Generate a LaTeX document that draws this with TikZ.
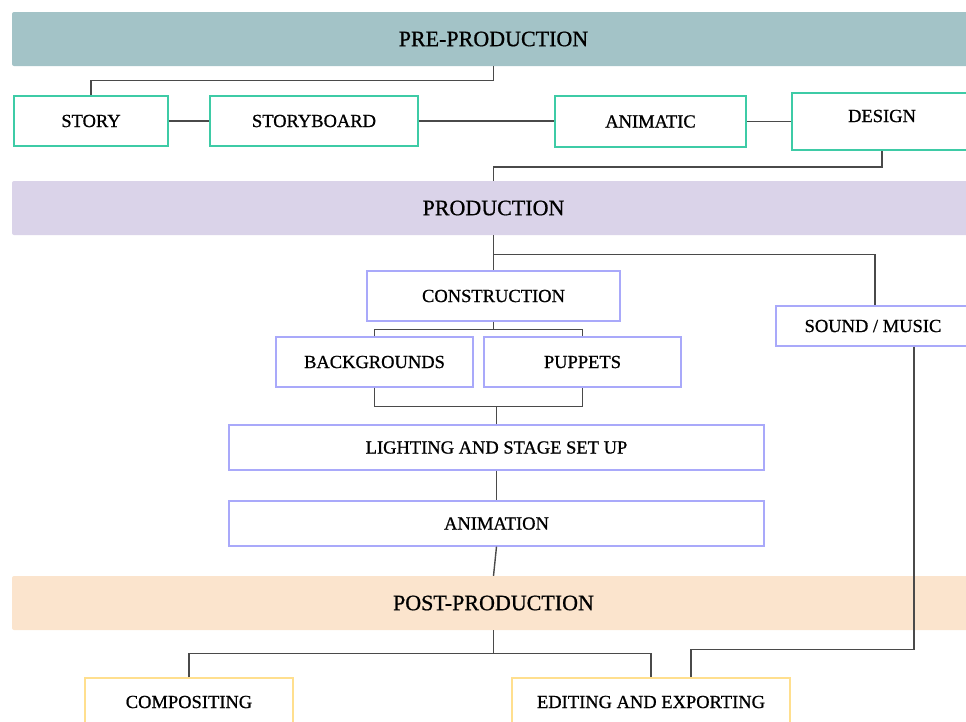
\documentclass[tikz,border=0pt]{standalone}
\usepackage{fontspec}
\setmainfont{Liberation Serif}[FakeBold=0.8]
\definecolor{prefill}{HTML}{A3C3C7}
\definecolor{prodfill}{HTML}{DAD3E9}
\definecolor{postfill}{HTML}{FBE4CD}
\definecolor{greenedge}{HTML}{3ECBA6}
\definecolor{lavedge}{HTML}{A9A9FA}
\definecolor{yellowedge}{HTML}{FFDF8E}
\definecolor{linkgray}{HTML}{4A4A4A}
\tikzset{
  band/.style={fill=#1, rounded corners=2pt, minimum width=963pt, minimum height=54pt,
    inner sep=0pt, font=\fontsize{22}{24}\selectfont},
  stepgreen/.style={draw=greenedge, line width=2pt, fill=white, inner sep=0pt,
    font=\fontsize{18.5}{20}\selectfont},
  steplav/.style={draw=lavedge, line width=1.3pt, fill=white, inner sep=0pt,
    font=\fontsize{18.5}{20}\selectfont},
  stepyellow/.style={draw=yellowedge, line width=1.5pt, fill=white, inner sep=0pt,
    font=\fontsize{18.5}{20}\selectfont},
  link/.style={draw=linkgray, line width=1.4pt},
}
\begin{document}
\begin{tikzpicture}[x=1pt, y={(0pt,-1pt)}]
\useasboundingbox (0,0) rectangle (966,721);
\clip (0,0) rectangle (966,721);

% phase bands
\node[band=prefill]  (pre)  at (493.5,39)  {PRE-PRODUCTION};
\node[band=prodfill] (prod) at (493.5,208) {PRODUCTION};
\node[band=postfill] (post) at (493.5,603) {POST-PRODUCTION};

% pre-production steps
\node[stepgreen, minimum width=154pt, minimum height=50pt] (story)      at (91,121)    {STORY};
\node[stepgreen, minimum width=208pt, minimum height=50pt] (storyboard) at (314,121)   {STORYBOARD};
\node[stepgreen, minimum width=191pt, minimum height=51pt] (animatic)   at (650.5,121.5) {ANIMATIC};
\node[stepgreen, minimum width=180pt, minimum height=57pt] (design)     at (882,121.5) {};
\node[font=\fontsize{18.5}{20}\selectfont] (designtxt) at (882,116) {DESIGN};

% production steps
\node[steplav, minimum width=253pt, minimum height=50pt] (construction) at (493.5,296) {CONSTRUCTION};
\node[steplav, minimum width=194pt, minimum height=40pt] (sound)        at (873,326)   {SOUND / MUSIC};
\node[steplav, minimum width=197pt, minimum height=50pt] (backgrounds)  at (374.5,362) {BACKGROUNDS};
\node[steplav, minimum width=197pt, minimum height=50pt] (puppets)      at (582.5,362) {PUPPETS};
\node[steplav, minimum width=535pt, minimum height=45pt] (lighting)     at (496.5,447.5) {LIGHTING AND STAGE SET UP};
\node[steplav, minimum width=535pt, minimum height=45pt] (animation)    at (496.5,523.5) {ANIMATION};

% post-production steps
\node[stepyellow, minimum width=208pt, minimum height=48pt] (compositing) at (189,702) {COMPOSITING};
\node[stepyellow, minimum width=278pt, minimum height=48pt] (editing)     at (651,702) {EDITING AND EXPORTING};

% connectors: pre-production
\draw[link] (pre.south) -- ++(0,14) -| (story.north);
\draw[link] (story.east) -- (storyboard.west);
\draw[link] (storyboard.east) -- (storyboard.east -| animatic.west);
\draw[link] (animatic.east) -- (design.west);
\draw[link] (design.south) -- ++(0,16) -| (prod.north);

% connectors: production
\draw[link] (prod.south) -- (construction.north);
\draw[link] (prod.south) ++(0,19) -| ([xshift=2pt]sound.north);
\draw[link] (construction.south) -- ++(0,8) coordinate (csplit);
\draw[link] (backgrounds.north) |- (csplit) -| (puppets.north);
\draw[link] (backgrounds.south) -- ++(0,19) coordinate (bjoin) -| (puppets.south);
\draw[link] (lighting.north) -- (lighting.north |- bjoin);
\draw[link] (lighting.south) -- (animation.north);
\draw[link] (animation.south) -- (post.north);

% connectors: post-production
\draw[link] (post.south) -- ++(0,23) coordinate (psplit);
\draw[link] (compositing.north) |- (psplit) -| (editing.north);
\draw[link] ([xshift=41pt]sound.south) -- ++(0,303) -| ([xshift=40pt]editing.north);
\end{tikzpicture}
\end{document}
